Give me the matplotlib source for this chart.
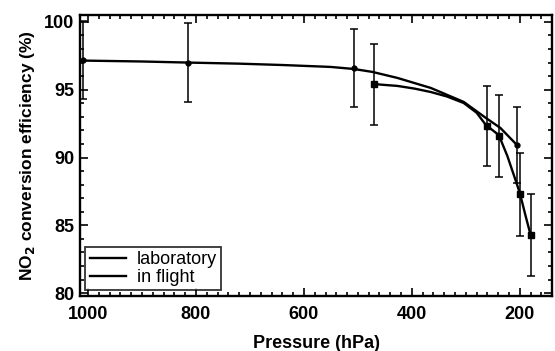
import matplotlib
matplotlib.use("Agg")
import matplotlib.pyplot as plt
from matplotlib.ticker import MultipleLocator

plt.rcParams["font.family"] = ["Liberation Sans", "DejaVu Sans"]

# 실험실 측정 (원)
lab_p = [1010, 815, 507, 205]
lab_eff = [97.2, 97.0, 96.6, 90.9]
lab_err = [2.9, 2.9, 2.9, 2.8]

# 비행 중 측정 (사각형)
flt_p = [471, 261, 239, 200, 180]
flt_eff = [95.4, 92.3, 91.6, 87.3, 84.3]
flt_err = [3.0, 2.95, 3.0, 3.05, 3.0]

# 그림에서 읽은 맞춤 곡선
lab_fit_p = [1015, 900, 815, 720, 640, 551, 508, 473, 427, 365, 304, 263, 236, 206]
lab_fit_eff = [97.15, 97.08, 97.0, 96.92, 96.82, 96.68, 96.53, 96.31, 95.87, 95.13, 94.1,
               92.92, 92.18, 90.95]
flt_fit_p = [471, 450, 427, 395, 365, 335, 304, 280, 263, 250, 239, 223, 208, 200, 190, 180]
flt_fit_eff = [95.42, 95.35, 95.28, 95.08, 94.83, 94.5, 94.02, 93.3, 92.4, 92.0, 91.66,
               90.1, 88.34, 87.38, 85.8, 84.28]

fig = plt.figure(figsize=(5.55, 3.51), dpi=100)
ax = fig.add_axes([0.144, 0.157, 0.851, 0.8])

ax.plot(lab_fit_p, lab_fit_eff, color="black", lw=1.7, label="laboratory")
ax.plot(flt_fit_p, flt_fit_eff, color="black", lw=1.7, label="in flight")
ax.errorbar(lab_p, lab_eff, yerr=lab_err, fmt="o", color="black", ms=3.5,
            elinewidth=1.1, capsize=3, capthick=1.1)
ax.errorbar(flt_p, flt_eff, yerr=flt_err, fmt="s", color="black", ms=5,
            elinewidth=1.1, capsize=3, capthick=1.1)

ax.set_xlim(1015, 140)
ax.set_ylim(79.8, 100.5)
ax.xaxis.set_major_locator(MultipleLocator(200))
ax.xaxis.set_minor_locator(MultipleLocator(20))
ax.yaxis.set_major_locator(MultipleLocator(5))
ax.yaxis.set_minor_locator(MultipleLocator(1))
ax.tick_params(which="both", direction="in", top=True, right=True, width=1.2)
ax.tick_params(which="major", length=6, labelsize=13, pad=4)
ax.tick_params(axis="x", which="major", pad=7)
ax.tick_params(which="minor", length=3)
for lbl in ax.get_xticklabels() + ax.get_yticklabels():
    lbl.set_fontweight("bold")
for s in ax.spines.values():
    s.set_linewidth(1.7)

ax.set_xlabel("Pressure (hPa)", fontsize=13, fontweight="bold", labelpad=9)
ax.set_ylabel("NO$_\\mathbf{2}$ conversion efficiency (%)", fontsize=12.5,
              fontweight="bold", labelpad=5)

leg = ax.legend(loc="lower left", fontsize=13, frameon=True, fancybox=False,
                edgecolor="black", handlelength=2.0, handletextpad=0.6, borderpad=0.25,
                labelspacing=0.05, borderaxespad=0.3)
leg.get_frame().set_linewidth(1.3)

fig.savefig("out.png", dpi=100)
